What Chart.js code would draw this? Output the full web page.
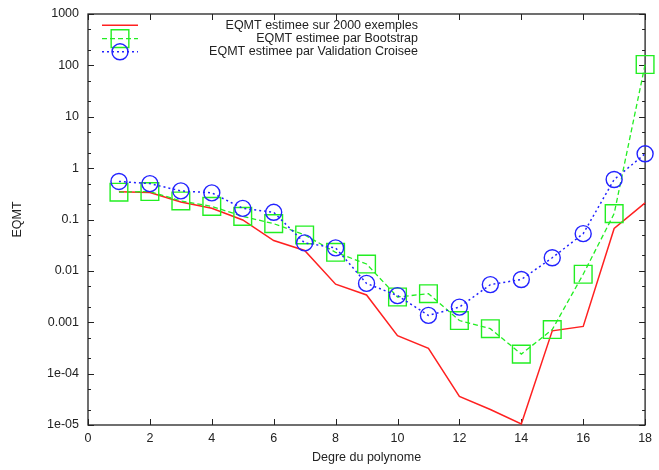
<!DOCTYPE html>
<html>
<head>
<meta charset="utf-8">
<script src="https://cdn.jsdelivr.net/npm/chart.js@4/dist/chart.umd.min.js"></script>
<style>
  html, body { margin: 0; padding: 0; background: #fff; }
  #wrap { width: 659px; height: 470px; }
</style>
</head>
<body>
<div id="wrap"><canvas id="c" width="659" height="470"></canvas></div>
<script>
// Polynomial degree on the x axis
const degrees = [1, 2, 3, 4, 5, 6, 7, 8, 9, 10, 11, 12, 13, 14, 15, 16, 17, 18];

// Mean squared error estimated on 2000 examples
const eqmtTest = [0.345, 0.335, 0.22, 0.165, 0.098, 0.039, 0.025, 0.0055, 0.0034, 0.00055,
                  0.00031, 0.000036, 0.00002, 0.0000105, 0.00068, 0.00083, 0.067, 0.21];

// Mean squared error estimated by bootstrap
const eqmtBootstrap = [0.34, 0.35, 0.23, 0.18, 0.115, 0.083, 0.05, 0.023, 0.0136, 0.0031,
                       0.0036, 0.00108, 0.00075, 0.00024, 0.00072, 0.0086, 0.13, 104];

// Mean squared error estimated by cross-validation
const eqmtCrossVal = [0.55, 0.5, 0.36, 0.33, 0.165, 0.138, 0.035, 0.028, 0.0057, 0.0033,
                      0.00136, 0.00197, 0.0054, 0.0068, 0.018, 0.053, 0.6, 1.9];

const seriesNames = [
  'EQMT estimee sur 2000 exemples',
  'EQMT estimee par Bootstrap',
  'EQMT estimee par Validation Croisee'
];

const xTickValues = [0, 2, 4, 6, 8, 10, 12, 14, 16, 18];
const yTickValues = [1e-5, 1e-4, 1e-3, 1e-2, 1e-1, 1, 10, 100, 1000];
const yTickLabels = ['1e-05', '1e-04', '0.001', '0.01', '0.1', '1', '10', '100', '1000'];
const yMinorMantissas = [2, 5];

const FONT = { family: '"Liberation Sans", Arial, Helvetica, sans-serif', size: 12.5 };
const TEXT_COLOR = '#222';
const AXIS_COLOR = '#222';

const toPoints = (vals) => degrees.map((d, i) => ({ x: d, y: vals[i] }));

// Frame with inward ticks on all four sides
const framePlugin = {
  id: 'frame',
  beforeDatasetsDraw(chart) {
    const { ctx, chartArea: a, scales: { x, y } } = chart;
    ctx.save();
    ctx.strokeStyle = AXIS_COLOR;
    ctx.lineWidth = 1.3;
    ctx.setLineDash([]);
    ctx.strokeRect(a.left, a.top, a.right - a.left, a.bottom - a.top);

    ctx.lineWidth = 1;
    ctx.beginPath();
    const major = 6, minor = 3;
    xTickValues.forEach(v => {
      const px = Math.round(x.getPixelForValue(v)) + 0.5;
      ctx.moveTo(px, a.bottom); ctx.lineTo(px, a.bottom - major);
      ctx.moveTo(px, a.top); ctx.lineTo(px, a.top + major);
    });
    yTickValues.forEach((v, i) => {
      const py = Math.round(y.getPixelForValue(v)) + 0.5;
      ctx.moveTo(a.left, py); ctx.lineTo(a.left + major, py);
      ctx.moveTo(a.right, py); ctx.lineTo(a.right - major, py);
      if (i < yTickValues.length - 1) {
        yMinorMantissas.forEach(m => {
          const pm = Math.round(y.getPixelForValue(v * m)) + 0.5;
          ctx.moveTo(a.left, pm); ctx.lineTo(a.left + minor, pm);
          ctx.moveTo(a.right, pm); ctx.lineTo(a.right - minor, pm);
        });
      }
    });
    ctx.stroke();
    ctx.restore();
  }
};

// Key in the upper part of the plot: sample on the left, text right-aligned
const keyPlugin = {
  id: 'key',
  afterDatasetsDraw(chart) {
    const { ctx } = chart;
    const x0 = 102, x1 = 138, xm = 120, textRight = 418;
    const rowY = [25.3, 38.6, 51.8];
    ctx.save();
    chart.data.datasets.forEach((ds, i) => {
      const yy = rowY[i];
      ctx.strokeStyle = ds.borderColor;
      ctx.lineWidth = ds.borderWidth;
      ctx.setLineDash(ds.borderDash || []);
      ctx.beginPath();
      ctx.moveTo(x0, yy); ctx.lineTo(x1, yy);
      ctx.stroke();
      ctx.setLineDash([]);
      if (ds.pointRadius > 0) {
        ctx.strokeStyle = ds.pointBorderColor;
        ctx.lineWidth = ds.pointBorderWidth;
        ctx.beginPath();
        if (ds.pointStyle === 'rect') {
          const h = Math.SQRT1_2 * ds.pointRadius;
          ctx.rect(xm - h, yy - h, 2 * h, 2 * h);
        } else {
          ctx.arc(xm, yy, ds.pointRadius, 0, Math.PI * 2);
        }
        ctx.stroke();
      }
      ctx.fillStyle = TEXT_COLOR;
      ctx.font = `${FONT.size}px ${FONT.family}`;
      ctx.textAlign = 'right';
      ctx.textBaseline = 'middle';
      ctx.fillText(ds.label, textRight, yy);
    });
    ctx.restore();
  }
};

new Chart(document.getElementById('c'), {
  type: 'line',
  data: {
    datasets: [
      {
        label: seriesNames[0],
        data: toPoints(eqmtTest),
        borderColor: '#ff2020',
        borderWidth: 1.5,
        pointRadius: 0,
        fill: false,
        tension: 0,
        clip: false,
        order: 2
      },
      {
        label: seriesNames[1],
        data: toPoints(eqmtBootstrap),
        borderColor: '#22ee22',
        borderWidth: 1.3,
        borderDash: [5, 3],
        pointStyle: 'rect',
        pointRadius: 12.5,
        pointBorderColor: '#22ee22',
        pointBorderWidth: 1.4,
        pointBackgroundColor: 'rgba(0,0,0,0)',
        fill: false,
        tension: 0,
        clip: false,
        order: 1
      },
      {
        label: seriesNames[2],
        data: toPoints(eqmtCrossVal),
        borderColor: '#2222ff',
        borderWidth: 1.5,
        borderDash: [2, 3],
        pointStyle: 'circle',
        pointRadius: 8,
        pointBorderColor: '#2222ff',
        pointBorderWidth: 1.4,
        pointBackgroundColor: 'rgba(0,0,0,0)',
        fill: false,
        tension: 0,
        clip: false,
        order: 0
      }
    ]
  },
  options: {
    responsive: false,
    animation: false,
    devicePixelRatio: 1,
    layout: { padding: { top: 14, right: 10, bottom: 0, left: 0 } },
    plugins: {
      legend: { display: false },
      tooltip: { enabled: false },
      title: { display: false }
    },
    scales: {
      x: {
        type: 'linear',
        min: 0,
        max: 18,
        afterBuildTicks: (s) => { s.ticks = xTickValues.map(v => ({ value: v })); },
        afterFit: (s) => { s.height = 45; s.paddingLeft = 0; s.paddingRight = 0; },
        grid: { display: false, drawTicks: false },
        border: { display: false },
        ticks: { font: FONT, color: TEXT_COLOR, padding: 6, maxRotation: 0, autoSkip: false },
        title: { display: true, text: 'Degre du polynome', font: FONT, color: TEXT_COLOR,
                 padding: { top: 0, bottom: 5 } }
      },
      y: {
        type: 'logarithmic',
        min: 1e-5,
        max: 1000,
        afterBuildTicks: (s) => { s.ticks = yTickValues.map(v => ({ value: v })); },
        afterFit: (s) => { s.width = 88; s.paddingTop = 0; s.paddingBottom = 0; },
        grid: { display: false, drawTicks: false },
        border: { display: false },
        ticks: {
          font: FONT, color: TEXT_COLOR, padding: 9, autoSkip: false,
          callback: (v) => {
            const i = yTickValues.findIndex(t => Math.abs(Math.log10(t) - Math.log10(v)) < 1e-6);
            return i >= 0 ? yTickLabels[i] : '';
          }
        },
        title: { display: true, text: 'EQMT', font: FONT, color: TEXT_COLOR,
                 padding: { top: 10.5, bottom: 0 } }
      }
    }
  },
  plugins: [framePlugin, keyPlugin]
});
</script>
</body>
</html>
